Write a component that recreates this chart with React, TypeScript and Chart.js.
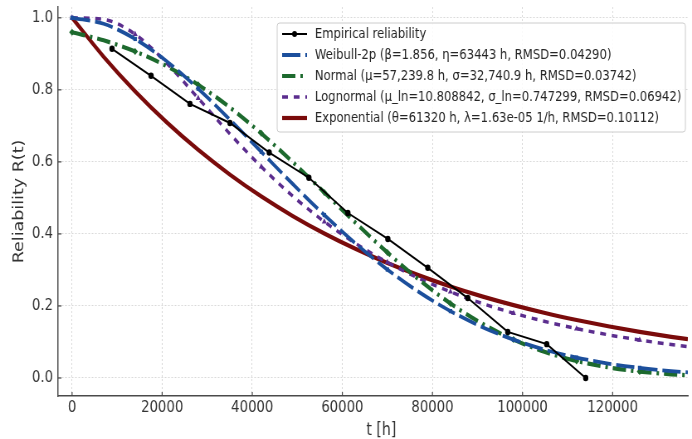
import React, { useEffect, useRef } from "react";
import { Chart, registerables } from "chart.js";

Chart.register(...registerables);

// ---------- data ----------
const EMP_T = [8870, 17530, 26180, 35050, 43770, 52570, 61230, 70100, 78970, 87840, 96720, 105370, 114020];
const EMP_R = [0.914, 0.839, 0.761, 0.708, 0.626, 0.556, 0.458, 0.386, 0.306, 0.222, 0.128, 0.094, 0.0];

const FIT_T = [0, 7000, 14000, 21000, 28000, 35000, 42000, 49000, 56000, 63000, 70000, 77000, 84000, 91000, 98000, 105000, 112000, 119000, 126000, 133000, 136700];
const WEIBULL_R = [1.0, 0.9834, 0.9413, 0.8794, 0.8032, 0.7178, 0.6281, 0.5384, 0.4524, 0.3727, 0.3011, 0.2387, 0.1857, 0.1418, 0.1064, 0.0783, 0.0566, 0.0402, 0.0281, 0.0192, 0.0157];
const NORMAL_R = [0.9598, 0.9375, 0.9067, 0.8658, 0.8141, 0.7516, 0.6792, 0.5994, 0.5151, 0.4302, 0.3484, 0.2731, 0.2069, 0.1513, 0.1066, 0.0723, 0.0472, 0.0296, 0.0179, 0.0103, 0.0076];
const LOGNORMAL_R = [1.0, 0.9956, 0.9544, 0.8741, 0.7767, 0.6782, 0.5866, 0.5049, 0.434, 0.373, 0.321, 0.2768, 0.2392, 0.2072, 0.18, 0.1568, 0.137, 0.12, 0.1054, 0.0928, 0.0867];
const EXP_R = [1.0, 0.8921, 0.7959, 0.71, 0.6334, 0.5651, 0.5041, 0.4497, 0.4012, 0.3579, 0.3193, 0.2849, 0.2541, 0.2267, 0.2023, 0.1804, 0.161, 0.1436, 0.1281, 0.1143, 0.1076];

const MARKER_T = [0, 14000, 28000, 42000, 56000, 70000, 84000, 98000, 112000, 126000];

const SERIES_LABELS = [
  "Empirical reliability",
  "Weibull-2p (β=1.856, η=63443 h, RMSD=0.04290)",
  "Normal (μ=57,239.8 h, σ=32,740.9 h, RMSD=0.03742)",
  "Lognormal (μ_ln=10.808842, σ_ln=0.747299, RMSD=0.06942)",
  "Exponential (θ=61320 h, λ=1.63e-05 1/h, RMSD=0.10112)",
];

const X_TICKS = [0, 20000, 40000, 60000, 80000, 100000, 120000];
const X_TICK_LABELS = ["0", "20000", "40000", "60000", "80000", "100000", "120000"];
const Y_TICKS = [0, 0.2, 0.4, 0.6, 0.8, 1.0];
const Y_TICK_LABELS = ["0.0", "0.2", "0.4", "0.6", "0.8", "1.0"];

const X_TITLE = "t [h]";
const Y_TITLE = "Reliability R(t)";
const X_MIN = -3100;
const X_MAX = 136700;
const Y_MIN = -0.05;
const Y_MAX = 1.03;

// ---------- layout / style ----------
const SX = 0.83; // horizontal compression of the reference
const DISP_W = 692;
const DISP_H = 439;
const CW = Math.round(DISP_W / SX);
const CH = DISP_H;
const FONT = "'DejaVu Sans', sans-serif";

const pts = (xs: number[], ys: number[]) => xs.map((x, i) => ({ x, y: ys[i] }));
const markerRadius = (r: number) => (ctx: any) => {
  const t = FIT_T[ctx.dataIndex];
  return MARKER_T.includes(t) ? r : 0;
};

const overlayPlugin = {
  id: "overlay",
  afterDraw(chart: any) {
    const ctx = chart.ctx;
    const { left, right, bottom } = chart.chartArea;
    const xs = chart.scales.x;
    const ys = chart.scales.y;
    // inward tick marks
    ctx.save();
    ctx.strokeStyle = "#444";
    ctx.lineWidth = 1.2;
    xs.ticks.forEach((t: any) => {
      const px = xs.getPixelForValue(t.value);
      ctx.beginPath();
      ctx.moveTo(px, bottom);
      ctx.lineTo(px, bottom - 4);
      ctx.stroke();
    });
    ys.ticks.forEach((t: any) => {
      const py = ys.getPixelForValue(t.value);
      ctx.beginPath();
      ctx.moveTo(left, py);
      ctx.lineTo(left + 4, py);
      ctx.stroke();
    });
    ctx.restore();

    // x axis title (slightly right of centre, as in the reference)
    ctx.save();
    ctx.fillStyle = "#333333";
    ctx.font = `17px ${FONT}`;
    ctx.textAlign = "center";
    ctx.textBaseline = "middle";
    ctx.fillText(X_TITLE, (left + right) / 2 + 10, 430.5);
    ctx.restore();

    // legend
    const bx = 334, by = 23, bw = 492, bh = 109;
    ctx.save();
    ctx.beginPath();
    (ctx as any).roundRect(bx, by, bw, bh, 3);
    ctx.fillStyle = "rgba(255,255,255,0.85)";
    ctx.fill();
    ctx.strokeStyle = "#cccccc";
    ctx.lineWidth = 1;
    ctx.stroke();
    chart.data.datasets.forEach((ds: any, i: number) => {
      const y = 34 + 21 * i;
      ctx.save();
      ctx.strokeStyle = ds.borderColor;
      ctx.lineWidth = ds.borderWidth;
      ctx.setLineDash(ds.borderDash || []);
      ctx.lineCap = "butt";
      ctx.beginPath();
      ctx.moveTo(340, y);
      ctx.lineTo(370, y);
      ctx.stroke();
      if (ds.legendMarker) {
        ctx.setLineDash([]);
        ctx.fillStyle = ds.borderColor;
        ctx.beginPath();
        ctx.arc(355, y, 3, 0, Math.PI * 2);
        ctx.fill();
      }
      ctx.restore();
      ctx.fillStyle = "#262626";
      ctx.font = `14px ${FONT}`;
      ctx.textBaseline = "middle";
      ctx.textAlign = "left";
      ctx.fillText(ds.label, 379.5, y + 0.5);
    });
    ctx.restore();
  },
};

export default function App() {
  const ref = useRef<HTMLCanvasElement | null>(null);

  useEffect(() => {
    if (!ref.current) return;
    const chart = new Chart(ref.current, {
      type: "line",
      data: {
        datasets: [
          {
            label: SERIES_LABELS[0],
            data: pts(EMP_T, EMP_R),
            borderColor: "#000000",
            backgroundColor: "#000000",
            borderWidth: 2,
            pointRadius: 3.2,
            pointBackgroundColor: "#000000",
            pointBorderWidth: 0,
            tension: 0,
            legendMarker: true,
          } as any,
          {
            label: SERIES_LABELS[1],
            data: pts(FIT_T, WEIBULL_R),
            borderColor: "#1c4f9c",
            backgroundColor: "#1c4f9c",
            borderWidth: 3.8,
            borderDash: [22, 6],
            pointStyle: "rect",
            pointRadius: markerRadius(3),
            pointBorderWidth: 0,
            cubicInterpolationMode: "monotone",
          },
          {
            label: SERIES_LABELS[2],
            data: pts(FIT_T, NORMAL_R),
            borderColor: "#1d6a2e",
            backgroundColor: "#1d6a2e",
            borderWidth: 4.2,
            borderDash: [16, 6, 3, 6],
            pointStyle: "rectRot",
            pointRadius: markerRadius(3.5),
            pointBorderWidth: 0,
            cubicInterpolationMode: "monotone",
          },
          {
            label: SERIES_LABELS[3],
            data: pts(FIT_T, LOGNORMAL_R),
            borderColor: "#5b2d8e",
            backgroundColor: "#5b2d8e",
            borderWidth: 3.5,
            borderDash: [7, 7],
            pointStyle: "triangle",
            pointRadius: markerRadius(3.5),
            pointBorderWidth: 0,
            cubicInterpolationMode: "monotone",
          },
          {
            label: SERIES_LABELS[4],
            data: pts(FIT_T, EXP_R),
            borderColor: "#7a0b0b",
            backgroundColor: "#7a0b0b",
            borderWidth: 4.2,
            pointRadius: 0,
            cubicInterpolationMode: "monotone",
          },
        ],
      },
      options: {
        responsive: false,
        maintainAspectRatio: false,
        animation: false,
        devicePixelRatio: 1,
        events: [],
        layout: { padding: { top: 7, right: CW - Math.round(688 / SX), bottom: 0, left: 0 } },
        plugins: {
          legend: { display: false },
          tooltip: { enabled: false },
        },
        scales: {
          x: {
            type: "linear",
            min: X_MIN,
            max: X_MAX,
            afterBuildTicks: (s: any) => {
              s.ticks = X_TICKS.map((v) => ({ value: v }));
            },
            afterFit: (s: any) => {
              s.height = 43;
              s.paddingLeft = 0;
              s.paddingRight = 0;
              s.paddingTop = 0;
              s.paddingBottom = 0;
            },
            ticks: {
              autoSkip: false,
              maxRotation: 0,
              padding: 2,
              color: "#333333",
              font: { family: FONT, size: 16 },
              callback: (v: any) => {
                const i = X_TICKS.indexOf(Number(v));
                return i >= 0 ? X_TICK_LABELS[i] : String(v);
              },
            },
            grid: { color: "#cfcfcf", lineWidth: 0.8, drawTicks: false },
            border: { display: true, color: "#4a4a4a", width: 1.5, dash: [2, 2] },
            title: { display: false, text: X_TITLE },
          },
          y: {
            type: "linear",
            min: Y_MIN,
            max: Y_MAX,
            afterBuildTicks: (s: any) => {
              s.ticks = Y_TICKS.map((v) => ({ value: v }));
            },
            afterFit: (s: any) => {
              s.width = Math.round(58 / SX);
              s.paddingLeft = 0;
              s.paddingRight = 0;
              s.paddingTop = 0;
              s.paddingBottom = 0;
            },
            ticks: {
              autoSkip: false,
              padding: 6,
              color: "#333333",
              font: { family: FONT, size: 16 },
              callback: (v: any) => {
                const i = Y_TICKS.indexOf(Number(v));
                return i >= 0 ? Y_TICK_LABELS[i] : Number(v).toFixed(1);
              },
            },
            grid: { color: "#cfcfcf", lineWidth: 0.8, drawTicks: false },
            border: { display: true, color: "#4a4a4a", width: 1.5, dash: [2, 2] },
            title: {
              display: true,
              text: Y_TITLE,
              color: "#333333",
              font: { family: FONT, size: 17.5, lineHeight: 1 },
              padding: { top: 15, bottom: 0 },
            },
          },
        },
      },
      plugins: [overlayPlugin],
    });
    return () => chart.destroy();
  }, []);

  return (
    <div style={{ position: "fixed", left: 0, top: 0, width: DISP_W, height: DISP_H, background: "#ffffff" }}>
      <canvas
        ref={ref}
        width={CW}
        height={CH}
        style={{ width: `${DISP_W}px`, height: `${DISP_H}px`, display: "block" }}
      />
    </div>
  );
}
